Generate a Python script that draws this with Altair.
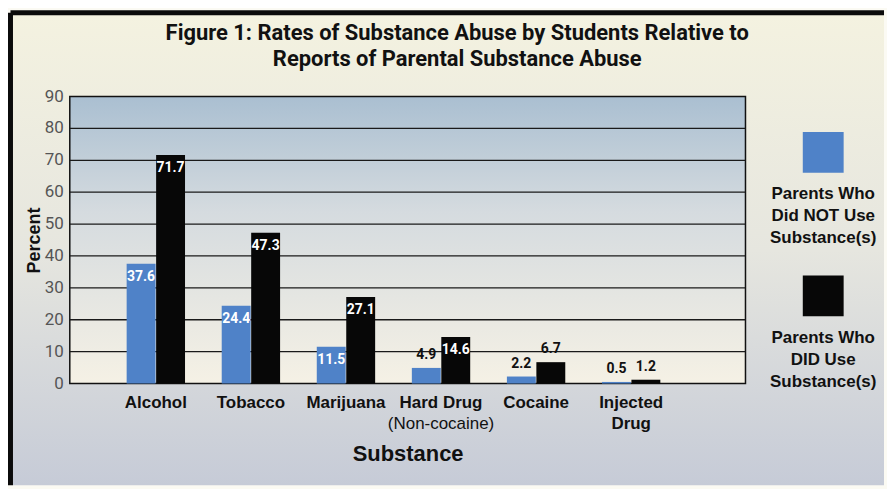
import altair as alt
import pandas as pd

substances = ["Alcohol", "Tobacco", "Marijuana", "Hard Drug", "Cocaine", "Injected Drug"]
not_use = [37.6, 24.4, 11.5, 4.9, 2.2, 0.5]
did_use = [71.7, 47.3, 27.1, 14.6, 6.7, 1.2]
series = ["Parents Who Did NOT Use Substance(s)", "Parents Who DID Use Substance(s)"]
legend_labels = ["Parents Who\nDid NOT Use\nSubstance(s)", "Parents Who\nDID Use\nSubstance(s)"]
colors = ["#4f82c8", "#070707"]
notes = ["(Non-cocaine)"]
note_for = ["Hard Drug"]
y_ticks = [0, 10, 20, 30, 40, 50, 60, 70, 80, 90]
grid_values = [10, 20, 30, 40, 50, 60, 70, 80]
title_lines = ["Figure 1:  Rates of Substance Abuse by Students Relative to",
               "Reports of Parental Substance Abuse"]

rows = []
for s, a, b in zip(substances, not_use, did_use):
    for ser, v in zip(series, [a, b]):
        rows.append({"substance": s, "series": ser, "value": v,
                     "label": f"{v:.1f}", "inside": v >= 10})
df = pd.DataFrame(rows)
note_df = pd.DataFrame({"substance": note_for, "note": notes})
legend_df = pd.DataFrame({"series": series, "text": legend_labels})
grid_df = pd.DataFrame({"value": grid_values})
tick_df = pd.DataFrame({"value": y_ticks, "txt": [str(t) for t in y_ticks]})
bg_df = pd.DataFrame({"lo": [y_ticks[0]], "hi": [y_ticks[-1]]})
one = pd.DataFrame({"k": [0]})

NARROW = "Roboto, sans-serif"
SANS = "Liberation Sans, Arial, sans-serif"

W, H = 678, 288

xenc = alt.X("substance:N", sort=substances,
             scale=alt.Scale(paddingInner=0.38, paddingOuter=0.744, align=0.40),
             axis=alt.Axis(title="Substance", labelAngle=0, ticks=False, domain=False,
                           labelPadding=11, labelFont=SANS, labelFontWeight="bold",
                           labelFontSize=17, labelColor="#111", labelLineHeight=21,
                           labelExpr="datum.value == 'Injected Drug' ? ['Injected', 'Drug'] : datum.value",
                           titleFont=SANS, titleFontSize=22, titleFontWeight="bold",
                           titleColor="#111", titlePadding=12, zindex=1))
xoff = alt.XOffset("series:N", sort=series, scale=alt.Scale(paddingInner=0, paddingOuter=0))
yscale = alt.Scale(domain=[y_ticks[0], y_ticks[-1]], nice=False)
yaxis = alt.Axis(title="Percent", labels=False, grid=False, ticks=False, domain=False,
                 titleFont=SANS, titleFontSize=18, titleFontWeight="bold",
                 titleColor="#111", titlePadding=26, zindex=1)
color = alt.Color("series:N", scale=alt.Scale(domain=series, range=colors), legend=None)

# page backdrop with the scanned gradient and the black frame of the figure
backdrop = alt.Chart(one).mark_rect(
    color=alt.LinearGradient(gradient="linear", x1=0, y1=0, x2=0, y2=1,
                             stops=[alt.GradientStop(color="#f4f2e0", offset=0),
                                    alt.GradientStop(color="#e6e6df", offset=0.5),
                                    alt.GradientStop(color="#c6cbd7", offset=1)])
).encode(x=alt.value(-57), x2=alt.value(817), y=alt.value(-82), y2=alt.value(390))
frame_left = alt.Chart(one).mark_rule(color="#0b0b0b", strokeWidth=5).encode(
    x=alt.value(-59.5), y=alt.value(-84), y2=alt.value(390))
frame_top = alt.Chart(one).mark_rule(color="#0b0b0b", strokeWidth=5).encode(
    x=alt.value(-59.5), x2=alt.value(817), y=alt.value(-84))

plotbg = alt.Chart(bg_df).mark_rect(
    stroke="#111", strokeWidth=1.5,
    color=alt.LinearGradient(gradient="linear", x1=0, y1=0, x2=0, y2=1,
                             stops=[alt.GradientStop(color="#aabfd1", offset=0),
                                    alt.GradientStop(color="#d5dbdf", offset=0.4),
                                    alt.GradientStop(color="#f5f1e5", offset=1)])
).encode(y=alt.Y("lo:Q", scale=yscale, axis=yaxis), y2="hi:Q")
grid = alt.Chart(grid_df).mark_rule(color="#1a1a1a", strokeWidth=1.3).encode(
    y=alt.Y("value:Q", scale=yscale, axis=yaxis))
ticklab = alt.Chart(tick_df).mark_text(
    align="right", baseline="middle", dx=-6, font=NARROW, fontSize=17, color="#555"
).encode(x=alt.value(0), y=alt.Y("value:Q", scale=yscale, axis=yaxis), text="txt:N")

base = alt.Chart(df)
bars = base.mark_bar(size=29).encode(x=xenc, xOffset=xoff,
                                     y=alt.Y("value:Q", scale=yscale, axis=yaxis),
                                     color=color)
lab_in = base.transform_filter("datum.inside").mark_text(
    baseline="top", dy=6, color="white", font=NARROW, fontWeight="bold", fontSize=14
).encode(x=alt.X("substance:N", sort=substances), xOffset=xoff,
         y=alt.Y("value:Q", scale=yscale, axis=yaxis), text="label:N")
lab_out = base.transform_filter("!datum.inside").mark_text(
    baseline="bottom", dy=-6, color="#111", font=NARROW, fontWeight="bold", fontSize=14
).encode(x=alt.X("substance:N", sort=substances), xOffset=xoff,
         y=alt.Y("value:Q", scale=yscale, axis=yaxis), text="label:N")
note = alt.Chart(note_df).mark_text(
    baseline="middle", dy=41, font=SANS, fontSize=17, color="#111"
).encode(x=alt.X("substance:N", sort=substances), y=alt.datum(0), text="note:N")

main = alt.layer(backdrop, frame_left, frame_top, plotbg, grid, ticklab, bars,
                 lab_in, lab_out, note).properties(
    width=W, height=H,
    view=alt.ViewBackground(strokeWidth=0, fill="transparent"))

lsym = alt.Chart(legend_df).mark_square(size=1681, opacity=1, yOffset=-16).encode(
    y=alt.Y("series:N", sort=series, axis=None,
            scale=alt.Scale(paddingInner=0, paddingOuter=0)),
    color=color)
ltxt = alt.Chart(legend_df).mark_text(
    baseline="top", dy=18, lineBreak="\n", lineHeight=22, font=SANS, fontWeight="bold",
    fontSize=17, color="#111", align="center"
).encode(y=alt.Y("series:N", sort=series, axis=None,
                 scale=alt.Scale(paddingInner=0, paddingOuter=0)),
         text="text:N")
legend = alt.layer(lsym, ltxt).properties(
    width=116, height=H,
    view=alt.ViewBackground(strokeWidth=0, fill="transparent"))

chart = alt.hconcat(main, legend, spacing=20, bounds="flush").properties(
    title=alt.TitleParams(text=title_lines, anchor="middle", font=NARROW, fontSize=22,
                          fontWeight="bold", lineHeight=26, color="#111", offset=-61,
                          frame="bounds", dx=10, zindex=1),
    background="#fbfaf3",
    padding={"left": 0, "top": 1, "right": 0, "bottom": 0},
)

chart.save("out.html", embed_options={"renderer": "svg", "actions": False})
